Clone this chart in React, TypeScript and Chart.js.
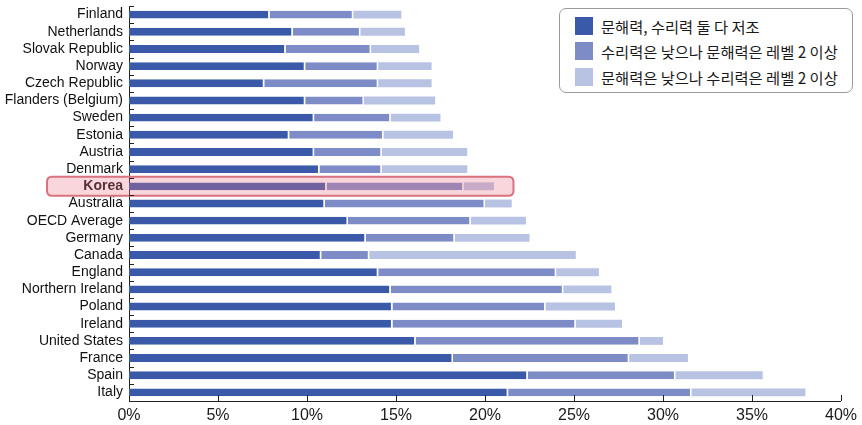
import React, { useEffect, useRef } from 'react';
import { Chart, registerables } from 'chart.js';

Chart.register(...registerables);

const countries = [
  'Finland', 'Netherlands', 'Slovak Republic', 'Norway', 'Czech Republic',
  'Flanders (Belgium)', 'Sweden', 'Estonia', 'Austria', 'Denmark', 'Korea',
  'Australia', 'OECD Average', 'Germany', 'Canada', 'England', 'Northern Ireland',
  'Poland', 'Ireland', 'United States', 'France', 'Spain', 'Italy',
];

// 문해력, 수리력 둘 다 저조
const bothLow = [7.9, 9.2, 8.8, 9.9, 7.6, 9.9, 10.4, 9.0, 10.4, 10.7, 11.1, 11.0, 12.3, 13.3, 10.8, 14.0, 14.7, 14.8, 14.8, 16.1, 18.2, 22.4, 21.3];
// 수리력은 낮으나 문해력은 레벨 2 이상
const numeracyLowOnly = [4.7, 3.8, 4.8, 4.1, 6.4, 3.3, 4.3, 5.3, 3.8, 3.5, 7.7, 9.0, 6.9, 5.0, 2.7, 10.0, 9.7, 8.6, 10.3, 12.6, 9.9, 8.3, 10.3];
// 문해력은 낮으나 수리력은 레벨 2 이상
const literacyLowOnly = [2.7, 2.5, 2.7, 3.0, 3.0, 4.0, 2.8, 3.9, 4.8, 4.8, 1.7, 1.5, 3.1, 4.2, 11.6, 2.4, 2.7, 3.9, 2.6, 1.3, 3.3, 4.9, 6.4];

const seriesLabels = [
  '문해력, 수리력 둘 다 저조',
  '수리력은 낮으나 문해력은 레벨 2 이상',
  '문해력은 낮으나 수리력은 레벨 2 이상',
];
const seriesColors = ['#3a59a8', '#7d8cc6', '#b8c2e3'];
const xTickValues = [0, 5, 10, 15, 20, 25, 30, 35, 40];
const highlightCountry = 'Korea';
const highlightEnd = 21.6;

const FONT = "'Liberation Sans', Arial, sans-serif";

const decorPlugin = {
  id: 'decor',
  afterDatasetsDraw(chart: any) {
    const { ctx, scales } = chart;
    const x = scales.x;
    const y = scales.y;
    const idx = countries.indexOf(highlightCountry);
    const yc = y.getPixelForValue(idx);
    const left = 47;
    const right = x.getPixelForValue(highlightEnd);
    const top = yc - 9.5;
    const h = 19;
    ctx.save();
    ctx.beginPath();
    const r = 5;
    ctx.moveTo(left + r, top);
    ctx.lineTo(right - r, top);
    ctx.quadraticCurveTo(right, top, right, top + r);
    ctx.lineTo(right, top + h - r);
    ctx.quadraticCurveTo(right, top + h, right - r, top + h);
    ctx.lineTo(left + r, top + h);
    ctx.quadraticCurveTo(left, top + h, left, top + h - r);
    ctx.lineTo(left, top + r);
    ctx.quadraticCurveTo(left, top, left + r, top);
    ctx.closePath();
    ctx.fillStyle = 'rgba(235,120,135,0.3)';
    ctx.fill();
    ctx.lineWidth = 2;
    ctx.strokeStyle = '#d9727e';
    ctx.stroke();
    ctx.restore();
  },
  afterDraw(chart: any) {
    const { ctx, scales } = chart;
    const x = scales.x;
    const y = scales.y;
    ctx.save();
    ctx.strokeStyle = '#222';
    ctx.lineWidth = 1;
    ctx.beginPath();
    const n = countries.length;
    for (let i = 0; i < n; i++) {
      const yy = Math.round(y.top + (i * (y.bottom - y.top)) / n) + 0.5;
      ctx.moveTo(x.left, yy);
      ctx.lineTo(x.left + 5, yy);
    }
    for (const v of xTickValues) {
      if (v === 0) continue;
      const xx = Math.round(x.getPixelForValue(v)) + 0.5;
      ctx.moveTo(xx, y.bottom);
      ctx.lineTo(xx, y.bottom - 6);
    }
    ctx.stroke();
    ctx.restore();
  },
};

export default function App() {
  const canvasRef = useRef<HTMLCanvasElement | null>(null);

  useEffect(() => {
    const canvas = canvasRef.current;
    if (!canvas) return;
    const data = [bothLow, numeracyLowOnly, literacyLowOnly];
    const chart = new Chart(canvas, {
      type: 'bar',
      data: {
        labels: countries,
        datasets: data.map((d, i) => ({
          label: seriesLabels[i],
          data: d,
          backgroundColor: seriesColors[i],
          borderColor: '#ffffff',
          borderWidth: i < 2 ? { right: 1.5, left: 0, top: 0, bottom: 0 } : 0,
          borderSkipped: false,
          categoryPercentage: 1,
          barPercentage: 0.46,
        })),
      },
      options: {
        indexAxis: 'y',
        responsive: false,
        animation: false,
        devicePixelRatio: 1,
        layout: { padding: { top: 6, right: 19, left: 0, bottom: 0 } },
        plugins: { legend: { display: false }, tooltip: { enabled: false } },
        scales: {
          x: {
            type: 'linear',
            stacked: true,
            min: 0,
            max: 40,
            position: 'bottom',
            grid: { display: false, drawTicks: false },
            border: { display: true, color: '#222', width: 1 },
            ticks: {
              stepSize: 5,
              padding: 5,
              color: '#1a1a1a',
              font: { family: FONT, size: 16 },
              callback: (v: any) => `${v}%`,
            },
            afterFit: (s: any) => { s.height = 24; },
          },
          y: {
            type: 'category',
            stacked: true,
            offset: true,
            grid: { display: false, drawTicks: false },
            border: { display: true, color: '#222', width: 1 },
            ticks: {
              padding: 6,
              color: '#111',
              autoSkip: false,
              font: (c: any) => ({
                family: FONT,
                size: 14,
                weight: countries[c.index] === highlightCountry ? 'bold' : 'normal',
              }),
            },
            afterFit: (s: any) => {
              s.width = 129;
              s.paddingTop = 0;
              s.paddingBottom = 0;
            },
          },
        },
      },
      plugins: [decorPlugin],
    });
    return () => chart.destroy();
  }, []);

  return (
    <div style={{ position: 'absolute', left: 0, top: 0, width: 862, height: 425, background: '#fff' }}>
      <canvas ref={canvasRef} width={862} height={425} style={{ display: 'block' }} />
      <div
        style={{
          position: 'absolute',
          left: 559,
          top: 8,
          width: 294,
          height: 85,
          border: '1px solid #9a9a9a',
          borderRadius: 7,
          background: '#fff',
          boxSizing: 'border-box',
          padding: '4px 0 0 15px',
          fontFamily: "'Noto Sans CJK KR', 'Noto Sans', sans-serif",
          fontSize: 15.3,
          color: '#1a1a1a',
        }}
      >
        {seriesLabels.map((l, i) => (
          <div key={l} style={{ display: 'flex', alignItems: 'center', height: 25.5 }}>
            <span
              style={{
                display: 'inline-block',
                width: 18,
                height: 18,
                background: seriesColors[i],
                marginRight: 8,
                flex: 'none',
              }}
            />
            <span style={{ whiteSpace: 'nowrap' }}>{l}</span>
          </div>
        ))}
      </div>
    </div>
  );
}
